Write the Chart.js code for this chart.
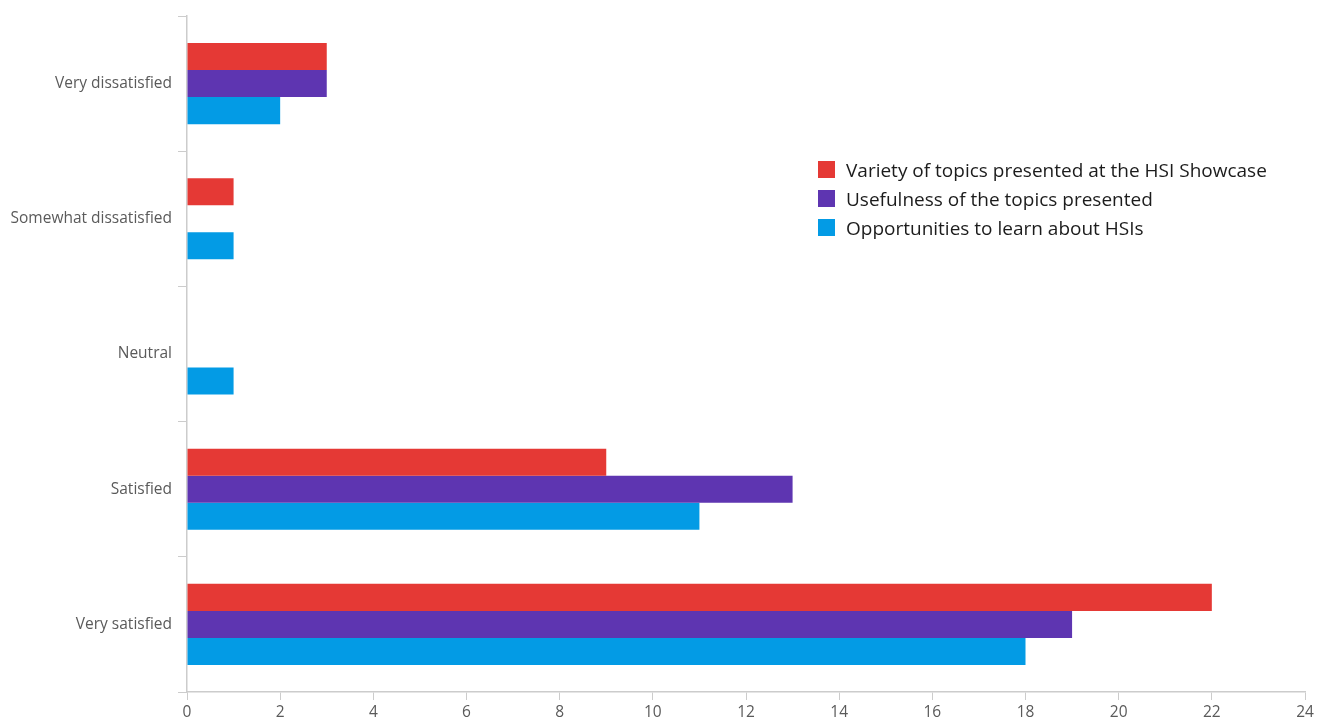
<!DOCTYPE html>
<html>
<head>
<meta charset="utf-8">
<script src="https://cdn.jsdelivr.net/npm/chart.js@4/dist/chart.umd.min.js"></script>
<style>
  html, body { margin: 0; padding: 0; background: #fff; }
  #wrap { position: relative; width: 1324px; height: 719px; }
  #legend {
    position: absolute; left: 818px; top: 155px;
    font-family: "Open Sans", sans-serif; font-size: 19px; color: #1c1c1c;
  }
  .legend-row { display: flex; align-items: center; height: 29px; }
  .legend-box { width: 17px; height: 17px; margin-right: 11px; }
</style>
</head>
<body>
<div id="wrap">
  <canvas id="satisfactionChart" width="1324" height="719"></canvas>
  <div id="legend"></div>
</div>
<script>
// Survey responses per satisfaction level
const categories = ['Very dissatisfied', 'Somewhat dissatisfied', 'Neutral', 'Satisfied', 'Very satisfied'];
const seriesNames = [
    'Variety of topics presented at the HSI Showcase',
    'Usefulness of the topics presented',
    'Opportunities to learn about HSIs'
];
const varietyCounts = [3, 1, 0, 9, 22];
const usefulnessCounts = [3, 0, 0, 13, 19];
const opportunityCounts = [2, 1, 1, 11, 18];
const seriesColors = ['#e53935', '#5e35b1', '#039be5'];

const axisGray = '#cccccc';
const labelGray = '#5a5a5a';

function buildDatasets() {
    const values = [varietyCounts, usefulnessCounts, opportunityCounts];
    return values.map((data, i) => ({
        label: seriesNames[i],
        data: data,
        backgroundColor: seriesColors[i],
        borderWidth: 0,
        categoryPercentage: 0.6,
        barPercentage: 1.0
    }));
}

function initSatisfactionChart() {
    const ctx = document.getElementById('satisfactionChart').getContext('2d');

    const chart = new Chart(ctx, {
        type: 'bar',
        data: {
            labels: categories,
            datasets: buildDatasets()
        },
        options: {
            indexAxis: 'y',
            responsive: false,
            animation: false,
            layout: {
                padding: { top: 16, right: 19, left: 0, bottom: 0 }
            },
            plugins: {
                legend: { display: false },
                tooltip: { enabled: false }
            },
            scales: {
                x: {
                    min: 0,
                    max: 24,
                    ticks: {
                        stepSize: 2,
                        color: labelGray,
                        padding: 3,
                        font: { family: 'Open Sans', size: 15.5 }
                    },
                    grid: {
                        drawOnChartArea: false,
                        color: axisGray,
                        tickLength: 8
                    },
                    border: { color: axisGray, width: 1.5 },
                    afterFit: function(scale) { scale.height = 27; }
                },
                y: {
                    ticks: {
                        color: labelGray,
                        padding: 6,
                        font: { family: 'Open Sans', size: 15.5 }
                    },
                    grid: {
                        offset: true,
                        drawOnChartArea: false,
                        color: axisGray,
                        tickLength: 9
                    },
                    border: { color: axisGray, width: 1.5 },
                    afterFit: function(scale) { scale.width = 187; }
                }
            }
        }
    });

    // HTML legend placed over the empty right side of the plot
    const legend = document.getElementById('legend');
    chart.data.datasets.forEach(ds => {
        const row = document.createElement('div');
        row.className = 'legend-row';
        row.innerHTML = '<div class="legend-box" style="background:' + ds.backgroundColor + '"></div><span>' + ds.label + '</span>';
        legend.appendChild(row);
    });
}

initSatisfactionChart();
</script>
</body>
</html>
